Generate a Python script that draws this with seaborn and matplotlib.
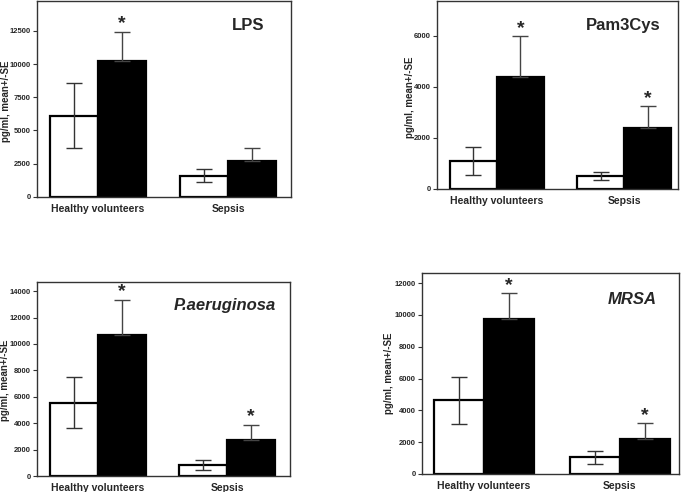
import pandas as pd
import matplotlib.pyplot as plt
import seaborn as sns

sns.set_style("ticks")
plt.rcParams["font.family"] = ["Liberation Sans", "DejaVu Sans"]
plt.rcParams["font.weight"] = "bold"

groups = ["Healthy volunteers", "Sepsis"]
conditions = ["open", "filled"]

# LPS
lps_open = [6100, 1580]
lps_open_se = [2450, 480]
lps_filled = [10200, 2700]
lps_filled_se = [2250, 950]
lps_star = [True, False]

# Pam3Cys
pam_open = [1100, 500]
pam_open_se = [550, 160]
pam_filled = [4400, 2370]
pam_filled_se = [1600, 880]
pam_star = [True, True]

# P.aeruginosa
psa_open = [5550, 850]
psa_open_se = [1950, 370]
psa_filled = [10650, 2750]
psa_filled_se = [2700, 1150]
psa_star = [True, True]

# MRSA
mrsa_open = [4620, 1050]
mrsa_open_se = [1450, 400]
mrsa_filled = [9750, 2200]
mrsa_filled_se = [1600, 1000]
mrsa_star = [True, True]

panels = [
    dict(title="LPS", italic=False, o=lps_open, ose=lps_open_se, f=lps_filled, fse=lps_filled_se,
         star=lps_star, ticks=[0, 2500, 5000, 7500, 10000, 12500], ymax=14760,
         pos=[0.054, 0.600, 0.371, 0.398], xlim=(-0.47, 1.485), tpos=(0.83, 0.877), lab=(-0.104, 0.49)),
    dict(title="Pam3Cys", italic=False, o=pam_open, ose=pam_open_se, f=pam_filled, fse=pam_filled_se,
         star=pam_star, ticks=[0, 2000, 4000, 6000], ymax=7370,
         pos=[0.638, 0.616, 0.352, 0.382], xlim=(-0.47, 1.425), tpos=(0.77, 0.872), lab=(-0.092, 0.49)),
    dict(title="P.aeruginosa", italic=True, o=psa_open, ose=psa_open_se, f=psa_filled, fse=psa_filled_se,
         star=psa_star, ticks=list(range(0, 14001, 2000)), ymax=14680,
         pos=[0.054, 0.0325, 0.369, 0.394], xlim=(-0.47, 1.485), tpos=(0.743, 0.88), lab=(-0.106, 0.495)),
    dict(title="MRSA", italic=True, o=mrsa_open, ose=mrsa_open_se, f=mrsa_filled, fse=mrsa_filled_se,
         star=mrsa_star, ticks=list(range(0, 12001, 2000)), ymax=12630,
         pos=[0.616, 0.0366, 0.375, 0.4085], xlim=(-0.456, 1.434), tpos=(0.817, 0.866), lab=(-0.108, 0.5)),
]

fig = plt.figure(figsize=(6.85, 4.92), dpi=100)

for p in panels:
    ax = fig.add_axes(p["pos"])
    df = pd.DataFrame({
        "group": groups * 2,
        "condition": [conditions[0]] * 2 + [conditions[1]] * 2,
        "value": p["o"] + p["f"],
    })
    sns.barplot(data=df, x="group", y="value", hue="condition", order=groups,
                hue_order=conditions, palette=["white", "black"], width=0.74,
                errorbar=None, edgecolor="black", linewidth=1.6, legend=False, ax=ax)

    open_bars, filled_bars = ax.containers[0], ax.containers[1]
    xo = [b.get_x() + b.get_width() / 2 for b in open_bars]
    xf = [b.get_x() + b.get_width() / 2 for b in filled_bars]
    ax.errorbar(xo, p["o"], yerr=p["ose"], fmt="none", ecolor="#333333",
                elinewidth=1, capsize=5.5, capthick=1, zorder=5)
    ax.errorbar(xf, p["f"], yerr=[[0] * len(p["f"]), p["fse"]], fmt="none",
                ecolor="#444444", elinewidth=1, capsize=5.5, capthick=1, zorder=5)
    for x, v, s, flag in zip(xf, p["f"], p["fse"], p["star"]):
        if flag:
            ax.annotate("*", (x, v + s), xytext=(0, -0.5), textcoords="offset points",
                        ha="center", va="bottom", fontsize=14, fontweight="bold")

    ax.set_xlim(*p["xlim"])
    ax.set_ylim(0, p["ymax"])
    ax.set_yticks(p["ticks"])
    ax.set_yticklabels([str(t) for t in p["ticks"]], fontsize=5.5, fontweight="bold")
    ax.set_xticks([0, 1])
    ax.set_xticklabels(groups, fontsize=7.5, fontweight="bold")
    ax.tick_params(axis="x", length=0, pad=5)
    ax.tick_params(axis="y", length=3, width=0.8, pad=1.5, color="#333333")
    ax.set_xlabel("")
    ax.set_ylabel("pg/ml, mean+/-SE", fontsize=7, fontweight="bold")
    ax.yaxis.set_label_coords(*p["lab"])
    for sp in ax.spines.values():
        sp.set_visible(True)
        sp.set_color("#333333")
        sp.set_linewidth(1)
    ax.text(p["tpos"][0], p["tpos"][1], p["title"], transform=ax.transAxes,
            ha="center", va="center", fontsize=12, fontweight="bold",
            fontstyle="italic" if p["italic"] else "normal")

fig.savefig("out.png", dpi=100)
